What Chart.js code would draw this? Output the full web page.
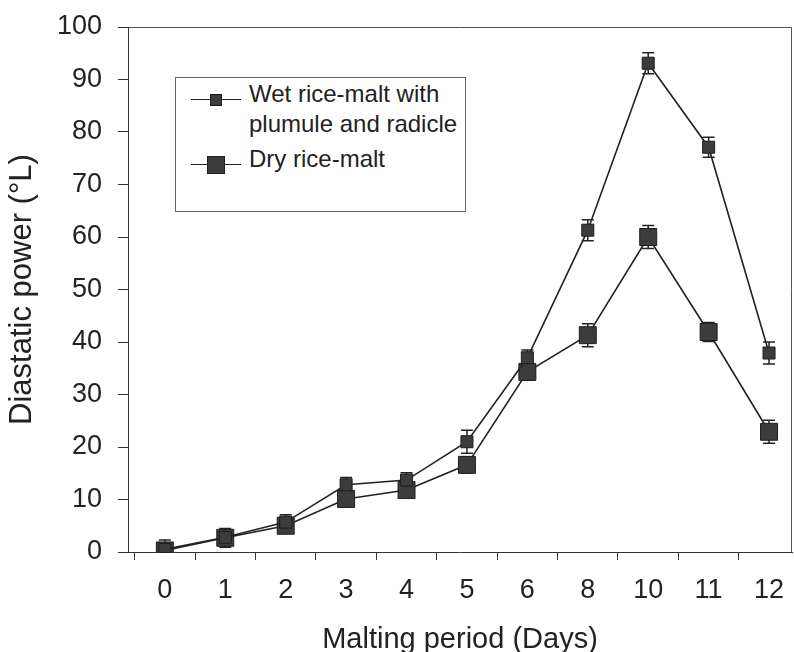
<!DOCTYPE html>
<html>
<head>
<meta charset="utf-8">
<script src="https://cdn.jsdelivr.net/npm/chart.js@4.4.1/dist/chart.umd.min.js"></script>
<style>
  html, body { margin: 0; padding: 0; background: #fff; }
  #wrap { position: relative; width: 794px; height: 652px; }
  #legend {
    position: absolute; left: 175px; top: 77px; width: 291px; height: 135px;
    box-sizing: border-box; border: 1px solid #666; background: #fff;
    font-family: "Liberation Sans", Arial, sans-serif; font-size: 24px; color: #222;
  }
  .lg-line { position: absolute; left: 15px; width: 50px; height: 0; border-top: 1.5px solid #222; }
  .lg-mark { position: absolute; box-sizing: border-box; background: #3c3c3c; border: 1px solid #1e1e1e; }
  .lg-text { position: absolute; left: 73px; line-height: 30px; white-space: nowrap; }
</style>
</head>
<body>
<div id="wrap">
  <canvas id="chart" width="794" height="652"></canvas>
  <div id="legend"></div>
</div>
<script>
// Days of malting (category positions on the x axis)
const days = ['0', '1', '2', '3', '4', '5', '6', '8', '10', '11', '12'];

// Wet rice-malt with plumule and radicle
const wetValues = [0.5, 2.8, 5.7, 12.8, 13.7, 21.0, 37.0, 61.3, 93.1, 77.1, 37.9];
const wetErrors = [1.8, 1.2, 1.4, 1.4, 1.4, 2.2, 1.5, 2.0, 2.0, 1.9, 2.1];

// Dry rice-malt
const dryValues = [0.3, 2.7, 5.0, 10.1, 11.8, 16.6, 34.3, 41.3, 60.0, 41.9, 22.9];
const dryErrors = [0.8, 1.8, 1.2, 1.2, 1.2, 1.5, 1.5, 2.2, 2.2, 1.8, 2.2];

const wetLabel = ['Wet rice-malt with', 'plumule and radicle'];
const dryLabel = ['Dry rice-malt'];

// x ticks: labels on the whole positions, tick marks half way between them
const xTickValues = [];
for (let i = -0.5; i <= 10; i += 0.5) xTickValues.push(i);

const FONT = '"Liberation Sans", Arial, sans-serif';
const INK = '#222';

// error bars drawn under the markers so the squares cover the stems
const errorBars = {
  id: 'errorBars',
  beforeDatasetsDraw(chart) {
    const { ctx } = chart;
    const xs = chart.scales.x, ys = chart.scales.y;
    ctx.save();
    ctx.strokeStyle = INK;
    ctx.lineWidth = 1.5;
    chart.data.datasets.forEach(ds => {
      ds.data.forEach((p, i) => {
        const e = ds.errors[i];
        const px = xs.getPixelForValue(p.x);
        const top = ys.getPixelForValue(p.y + e);
        const bot = ys.getPixelForValue(Math.max(0, p.y - e));
        ctx.beginPath();
        ctx.moveTo(px, top); ctx.lineTo(px, bot);
        ctx.moveTo(px - 6, top); ctx.lineTo(px + 6, top);
        ctx.moveTo(px - 6, bot); ctx.lineTo(px + 6, bot);
        ctx.stroke();
      });
    });
    ctx.restore();
  }
};

// top and right edges of the plot frame
const frame = {
  id: 'frame',
  beforeDraw(chart) {
    const { ctx, chartArea: a } = chart;
    ctx.save();
    ctx.strokeStyle = '#555';
    ctx.lineWidth = 1;
    ctx.beginPath();
    ctx.moveTo(a.left, a.top + 0.5);
    ctx.lineTo(a.right - 0.5, a.top + 0.5);
    ctx.lineTo(a.right - 0.5, a.bottom);
    ctx.stroke();
    ctx.restore();
  }
};

function toPoints(values) {
  return values.map((v, i) => ({ x: i, y: v }));
}

new Chart(document.getElementById('chart'), {
  type: 'line',
  data: {
    datasets: [
      {
        label: wetLabel.join(' '),
        data: toPoints(wetValues),
        errors: wetErrors,
        borderColor: INK,
        borderWidth: 1.6,
        pointStyle: 'rect',
        pointRadius: 8.5,
        pointBackgroundColor: '#3c3c3c',
        pointBorderColor: '#1e1e1e',
        pointBorderWidth: 1,
        tension: 0
      },
      {
        label: dryLabel.join(' '),
        data: toPoints(dryValues),
        errors: dryErrors,
        borderColor: INK,
        borderWidth: 1.6,
        pointStyle: 'rect',
        pointRadius: 12,
        pointBackgroundColor: '#3c3c3c',
        pointBorderColor: '#1e1e1e',
        pointBorderWidth: 1,
        tension: 0
      }
    ]
  },
  options: {
    responsive: false,
    animation: false,
    devicePixelRatio: 1,
    layout: { autoPadding: false, padding: { top: 27, right: 2, left: 0, bottom: 0 } },
    plugins: { legend: { display: false }, tooltip: { enabled: false } },
    scales: {
      x: {
        type: 'linear',
        min: -0.61,
        max: 10.38,
        afterBuildTicks: s => { s.ticks = xTickValues.map(v => ({ value: v })); },
        afterFit: s => { s.height = 100; s.paddingLeft = 0; s.paddingRight = 0; },
        ticks: {
          autoSkip: false, maxRotation: 0, padding: 14, color: INK,
          font: { family: FONT, size: 27 },
          callback: v => Number.isInteger(v) ? days[v] : ''
        },
        grid: {
          drawOnChartArea: false, tickLength: 8, tickWidth: 1,
          tickColor: c => Number.isInteger(c.tick.value) ? 'rgba(0,0,0,0)' : '#333'
        },
        border: { color: '#333', width: 1 },
        title: {
          display: true, text: 'Malting period (Days)', color: INK,
          font: { family: FONT, size: 29, lineHeight: 0.85 },
          padding: { top: 0, bottom: 0 }
        }
      },
      y: {
        min: 0,
        max: 100,
        afterFit: s => { s.width = 128; s.paddingTop = 0; s.paddingBottom = 0; },
        ticks: { stepSize: 10, padding: 16, color: INK, font: { family: FONT, size: 27 } },
        grid: { drawOnChartArea: false, tickLength: 10, tickColor: '#333' },
        border: { color: '#333', width: 1 },
        title: {
          display: true, text: 'Diastatic power (°L)', color: INK,
          font: { family: FONT, size: 31 },
          padding: { top: 4, bottom: 0 }
        }
      }
    }
  },
  plugins: [errorBars, frame]
});

// legend box, built from the series labels
function legendItem(lines, lineY, markSize, textTop) {
  return `<div class="lg-line" style="top:${lineY}px"></div>` +
    `<div class="lg-mark" style="left:${40 - markSize / 2}px;top:${lineY - markSize / 2 + 1}px;width:${markSize}px;height:${markSize}px"></div>` +
    `<div class="lg-text" style="top:${textTop}px">${lines.join('<br>')}</div>`;
}
document.getElementById('legend').innerHTML =
  legendItem(wetLabel, 21, 12, 1) + legendItem(dryLabel, 86, 18, 66);
</script>
</body>
</html>
